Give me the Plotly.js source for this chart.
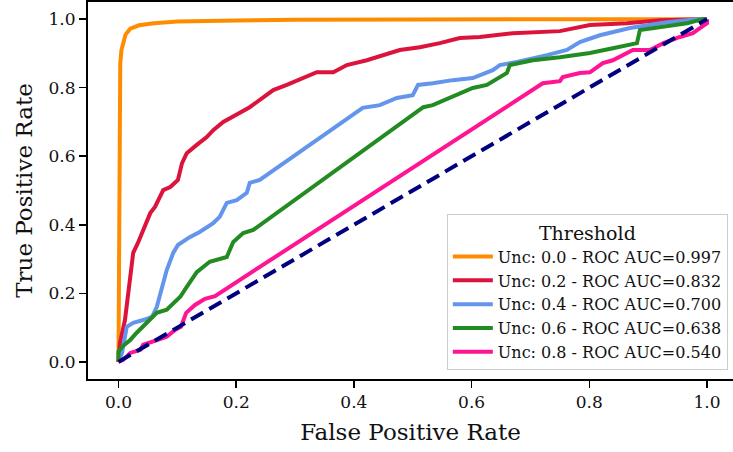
<!DOCTYPE html>
<html>
<head>
<meta charset="utf-8">
<script src="https://cdn.plot.ly/plotly-3.0.1.min.js"></script>
<style>html,body{margin:0;padding:0;background:#fff;}#chart{width:733px;height:452px;}</style>
</head>
<body>
<div id="chart"></div>
<script>
// Series names (legend labels)
const seriesNames = [
  "Unc: 0.0 - ROC AUC=0.997",
  "Unc: 0.2 - ROC AUC=0.832",
  "Unc: 0.4 - ROC AUC=0.700",
  "Unc: 0.6 - ROC AUC=0.638",
  "Unc: 0.8 - ROC AUC=0.540"
];

// Unc 0.0
const fpr00 = [0, 0.001, 0.002, 0.003, 0.005, 0.008, 0.012, 0.02, 0.035, 0.06, 0.1, 0.2, 0.3, 0.5, 1.0];
const tpr00 = [0, 0.3, 0.7, 0.87, 0.91, 0.935, 0.955, 0.972, 0.982, 0.988, 0.993, 0.996, 0.998, 0.999, 1.0];

// Unc 0.2
const fpr02 = [0, 0.0025, 0.011, 0.02, 0.025, 0.033, 0.042, 0.054, 0.062, 0.076, 0.088, 0.101, 0.108, 0.116, 0.133, 0.15, 0.161, 0.178, 0.223, 0.263, 0.286, 0.313, 0.337, 0.365, 0.388, 0.422, 0.456, 0.478, 0.512, 0.546, 0.58, 0.614, 0.67, 0.75, 0.801, 0.864, 0.92, 1.0];
const tpr02 = [0, 0.055, 0.122, 0.239, 0.318, 0.347, 0.385, 0.434, 0.452, 0.501, 0.51, 0.531, 0.58, 0.609, 0.633, 0.656, 0.676, 0.7, 0.743, 0.793, 0.808, 0.828, 0.845, 0.845, 0.866, 0.88, 0.9, 0.91, 0.918, 0.93, 0.945, 0.948, 0.959, 0.965, 0.983, 0.988, 0.997, 1.0];

// Unc 0.4
const fpr04 = [0, 0.006, 0.014, 0.025, 0.042, 0.057, 0.065, 0.074, 0.082, 0.093, 0.101, 0.121, 0.138, 0.161, 0.172, 0.184, 0.201, 0.218, 0.223, 0.24, 0.415, 0.444, 0.473, 0.5, 0.509, 0.534, 0.568, 0.602, 0.614, 0.636, 0.648, 0.677, 0.728, 0.762, 0.784, 0.818, 0.869, 0.898, 0.932, 0.983, 1.0];
const tpr04 = [0, 0.026, 0.102, 0.114, 0.122, 0.131, 0.16, 0.219, 0.268, 0.318, 0.341, 0.364, 0.379, 0.405, 0.423, 0.464, 0.472, 0.493, 0.522, 0.531, 0.741, 0.749, 0.77, 0.778, 0.808, 0.813, 0.822, 0.828, 0.837, 0.851, 0.866, 0.875, 0.895, 0.91, 0.933, 0.953, 0.974, 0.983, 0.991, 1.0, 1.0];

// Unc 0.6
const fpr06 = [0, 0, 0.006, 0.02, 0.031, 0.048, 0.065, 0.082, 0.105, 0.116, 0.133, 0.155, 0.184, 0.195, 0.212, 0.229, 0.518, 0.534, 0.546, 0.575, 0.602, 0.626, 0.648, 0.66, 0.665, 0.704, 0.75, 0.801, 0.84, 0.881, 0.886, 0.92, 0.966, 0.993, 1.0];
const tpr06 = [0, 0.03, 0.044, 0.064, 0.085, 0.114, 0.143, 0.152, 0.19, 0.219, 0.262, 0.292, 0.306, 0.35, 0.376, 0.385, 0.743, 0.749, 0.758, 0.778, 0.799, 0.808, 0.831, 0.843, 0.866, 0.88, 0.889, 0.901, 0.915, 0.93, 0.968, 0.977, 0.988, 1.0, 1.0];

// Unc 0.8
const fpr08 = [0, 0.008, 0.02, 0.037, 0.042, 0.065, 0.082, 0.096, 0.106, 0.115, 0.13, 0.147, 0.164, 0.721, 0.75, 0.755, 0.784, 0.801, 0.823, 0.84, 0.864, 0.874, 0.903, 0.926, 0.954, 0.976, 0.988, 1.0, 1.0];
const tpr08 = [0, 0.006, 0.026, 0.035, 0.05, 0.064, 0.073, 0.093, 0.102, 0.143, 0.166, 0.184, 0.192, 0.813, 0.819, 0.831, 0.843, 0.845, 0.872, 0.88, 0.901, 0.91, 0.91, 0.93, 0.948, 0.959, 0.974, 0.988, 1.0];

// Chance diagonal
const diagX = [0, 1];
const diagY = [0, 1];

const xTicks = [0, 0.2, 0.4, 0.6, 0.8, 1.0];
const xTickText = ["0.0", "0.2", "0.4", "0.6", "0.8", "1.0"];
const yTicks = [0, 0.2, 0.4, 0.6, 0.8, 1.0];
const yTickText = ["0.0", "0.2", "0.4", "0.6", "0.8", "1.0"];

const colors = ["#FF8C00", "#DC143C", "#6495ED", "#228B22", "#FF1493"];
const xs = [fpr00, fpr02, fpr04, fpr06, fpr08];
const ys = [tpr00, tpr02, tpr04, tpr06, tpr08];

const FONT = "DejaVu Serif, Liberation Serif, serif";
const TXT = "#111";

const traces = xs.map((x, i) => ({
  x: x, y: ys[i], type: "scatter", mode: "lines", name: seriesNames[i],
  line: {color: colors[i], width: 4, shape: "linear"}
}));
traces.push({
  x: diagX, y: diagY, type: "scatter", mode: "lines", showlegend: false,
  line: {color: "#000080", width: 4, dash: "14px,7px"}
});

const layout = {
  width: 733, height: 452,
  margin: {l: 88, r: 0, t: 2, b: 73},
  paper_bgcolor: "#fff", plot_bgcolor: "#fff",
  font: {family: FONT, color: TXT},
  showlegend: true,
  xaxis: {
    range: [-0.0518, 1.0442], tickvals: xTicks, ticktext: xTickText,
    showgrid: false, zeroline: false, showline: true, linecolor: "#000", linewidth: 2, mirror: true,
    ticks: "outside", ticklen: 7, tickwidth: 1.5, tickcolor: "#000",
    tickfont: {family: FONT, size: 17, color: TXT},
    title: {text: "False Positive Rate", font: {family: FONT, size: 23, color: TXT}, standoff: 12}
  },
  yaxis: {
    range: [-0.05, 1.05], tickvals: yTicks, ticktext: yTickText,
    showgrid: false, zeroline: false, showline: true, linecolor: "#000", linewidth: 2, mirror: false,
    ticks: "outside", ticklen: 7, tickwidth: 1.5, tickcolor: "#000",
    tickfont: {family: FONT, size: 17, color: TXT},
    title: {text: "True Positive Rate", font: {family: FONT, size: 23, color: TXT}, standoff: 10}
  },
  legend: {
    x: 0.992, xanchor: "right", y: 0.024, yanchor: "bottom",
    bgcolor: "rgba(255,255,255,0.85)", bordercolor: "#cccccc", borderwidth: 1,
    font: {family: FONT, size: 16, color: TXT},
    title: {text: "Threshold", side: "top center", font: {family: FONT, size: 19, color: TXT}},
    itemwidth: 40
  }
};

Plotly.newPlot("chart", traces, layout, {staticPlot: true, displayModeBar: false});
</script>
</body>
</html>
